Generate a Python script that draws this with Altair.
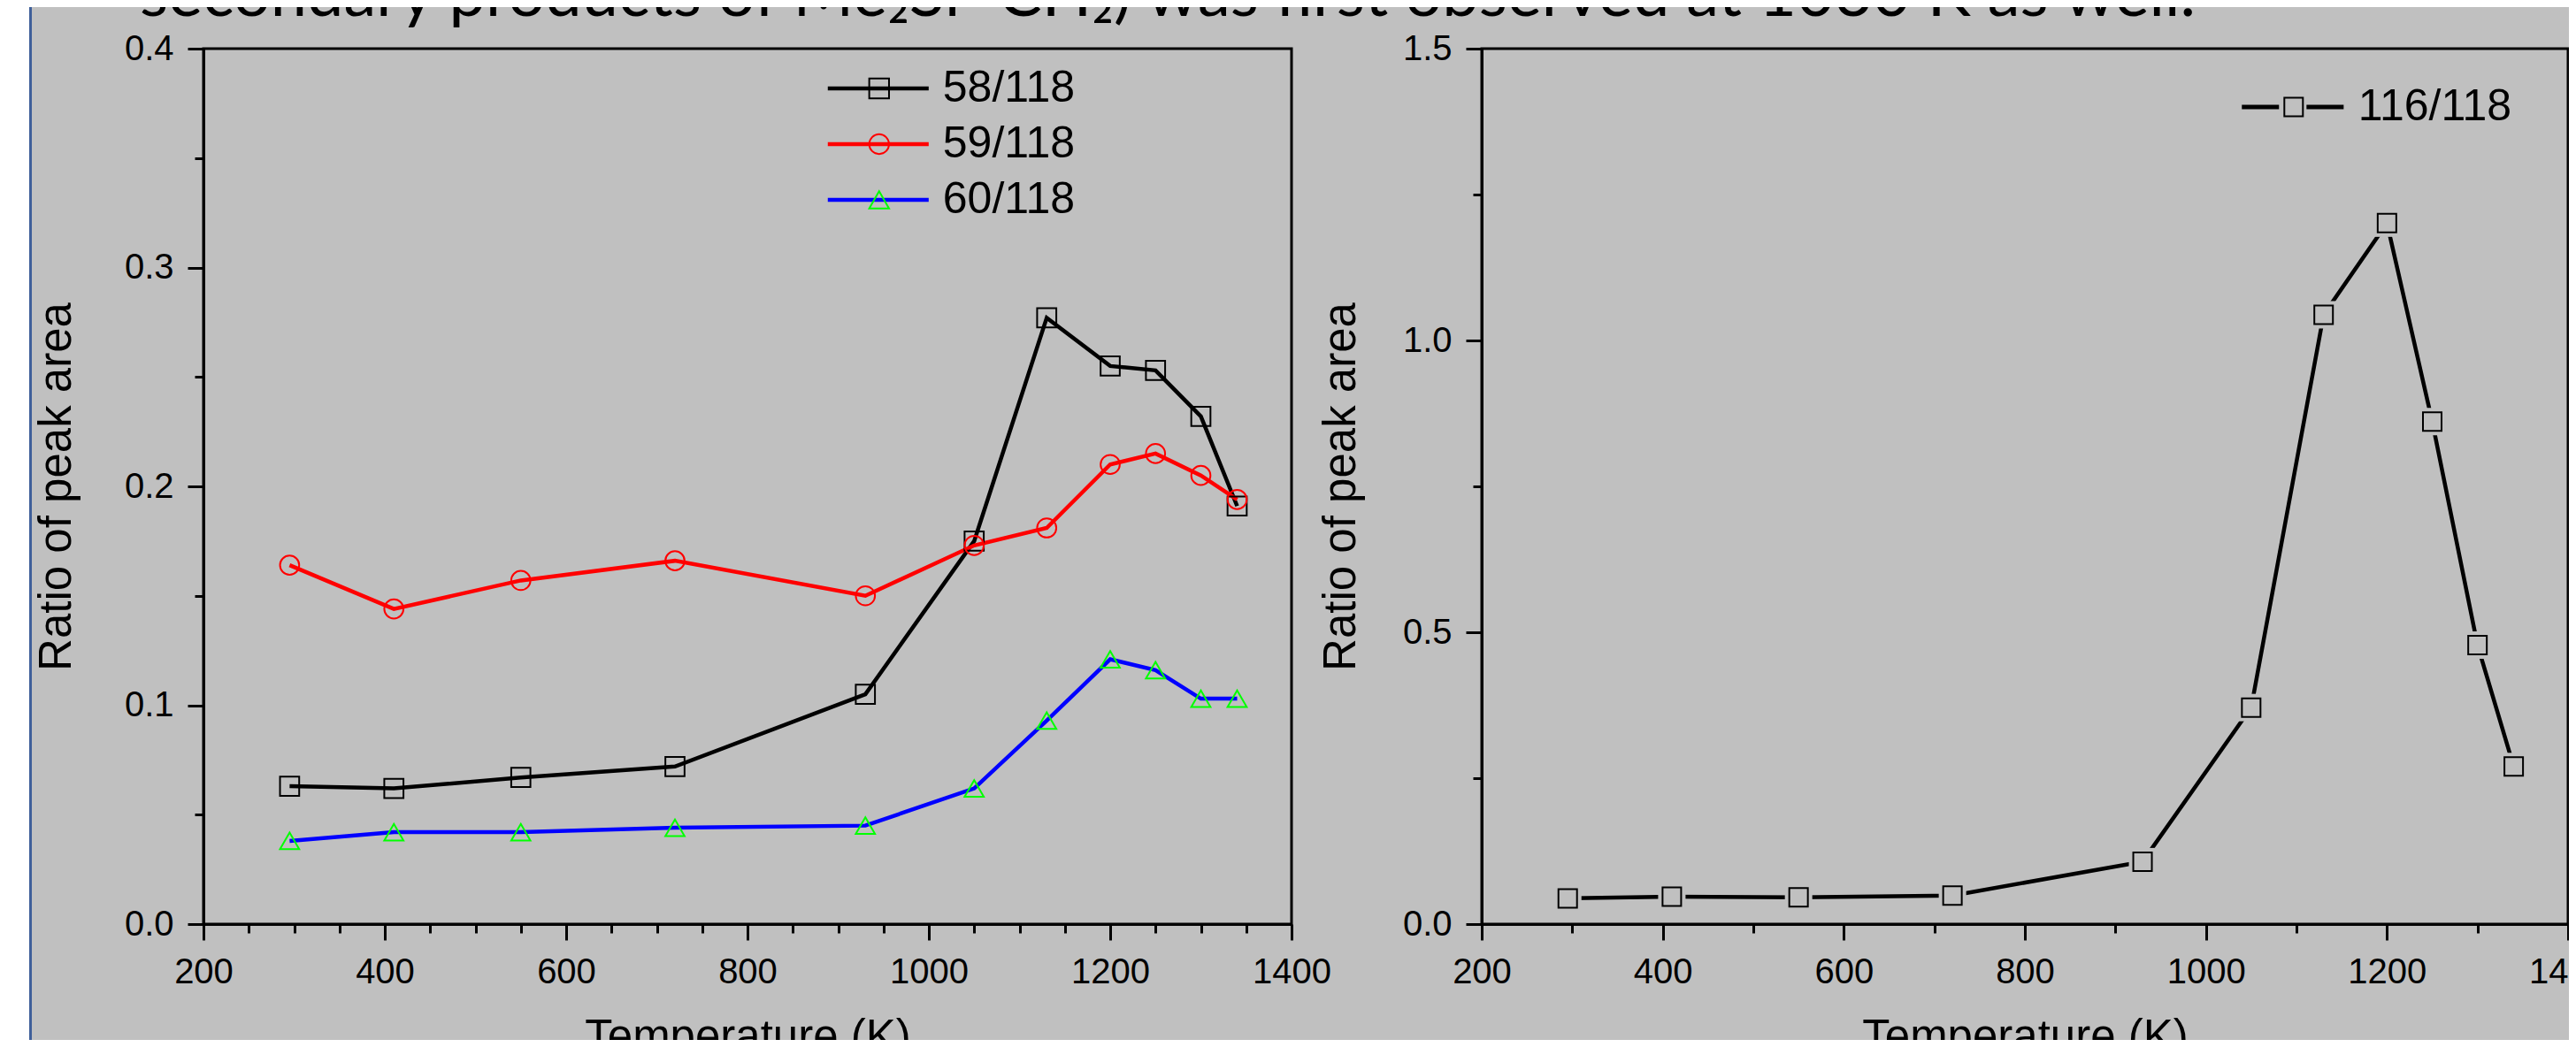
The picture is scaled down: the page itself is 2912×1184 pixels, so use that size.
import altair as alt
import pandas as pd

# ---------------- data ----------------
temps = [295, 410, 550, 720, 930, 1050, 1130, 1200, 1250, 1300, 1340]
ratio_58 = [0.063, 0.062, 0.067, 0.072, 0.105, 0.175, 0.277, 0.255, 0.253, 0.232, 0.191]
ratio_59 = [0.164, 0.144, 0.157, 0.166, 0.150, 0.173, 0.181, 0.210, 0.215, 0.205, 0.194]
ratio_60 = [0.038, 0.042, 0.042, 0.044, 0.045, 0.062, 0.093, 0.121, 0.116, 0.103, 0.103]
ratio_116 = [0.044, 0.047, 0.046, 0.049, 0.107, 0.371, 1.044, 1.201, 0.861, 0.478, 0.270]

left_series = ["58/118", "59/118", "60/118"]
right_series = ["116/118"]
left_line_colors = ["#000000", "#ff0000", "#0000ff"]
left_marker_colors = ["#000000", "#ff0000", "#00ff00"]
left_marker_shapes = ["square", "circle", "triangle-up"]

left_x_ticks = list(range(200, 1401, 50))
right_x_ticks = list(range(200, 1401, 100))
left_y_ticks = [round(i * 0.05, 2) for i in range(9)]
right_y_ticks = [round(i * 0.25, 2) for i in range(7)]

title_text = "secondary products of Me\u2082Si=CH\u2082) was first observed at 1030 K as well."
x_title = "Temperature (K)"
y_title = "Ratio of peak area"

# ---------------- tables ----------------
rows = []
for name, vals in zip(left_series, [ratio_58, ratio_59, ratio_60]):
    for t, v in zip(temps, vals):
        rows.append({"T": t, "v": v, "s": name, "m": name})
left_df = pd.DataFrame(rows)
right_df = pd.DataFrame({"T": temps, "v": ratio_116,
                         "s": right_series * len(temps), "m": right_series * len(temps)})
one = pd.DataFrame({"a": [0]})

FONT = "Liberation Sans"
GRAY = "#c0c0c0"

PLOT_W, PLOT_H = 2673, 990
L_RANGE = [0, 1230]
R_RANGE = [1445, 2673]
LINE_W = 4.5


def x_axis(ticks, major_test, title_x):
    return alt.Axis(
        orient="bottom", values=ticks, format="d",
        labelExpr=f"({major_test}) ? datum.label : ''",
        tickSize={"condition": {"test": major_test, "value": 18}, "value": 10},
        tickWidth=3, tickColor="black", domainWidth=3, domainColor="black",
        labelFont=FONT, labelFontSize=40, labelColor="black", labelPadding=16,
        labelOverlap=False, labelFlush=False, grid=False,
        title=x_title, titleFont=FONT, titleFontSize=51, titleFontWeight="normal",
        titleColor="black", titleX=title_x, titleY=103, titleBaseline="top",
    )


def y_axis(ticks, major_test, offset, title_x):
    return alt.Axis(
        orient="left", values=ticks, format=".1f", offset=offset,
        labelExpr=f"({major_test}) ? datum.label : ''",
        tickSize={"condition": {"test": major_test, "value": 18}, "value": 10},
        tickWidth=3, tickColor="black", domainWidth=3, domainColor="black",
        labelFont=FONT, labelFontSize=40, labelColor="black", labelPadding=16,
        labelOverlap=False, grid=False,
        title=y_title, titleFont=FONT, titleFontSize=51, titleFontWeight="normal",
        titleColor="black", titleX=title_x, titleY=PLOT_H / 2,
    )


# ---------------- left panel ----------------
lx_scale = alt.Scale(domain=[200, 1400], range=L_RANGE, nice=False, zero=False)
ly_scale = alt.Scale(domain=[0, 0.4], nice=False, zero=False)
lx = alt.X("T:Q", scale=lx_scale,
           axis=x_axis(left_x_ticks, "datum.value % 200 === 0", 615))
ly = alt.Y("v:Q", scale=ly_scale,
           axis=y_axis(left_y_ticks, "round(datum.value * 100) % 10 === 0", 0, -140))

legend_common = dict(title=None, orient="none", padding=0, rowPadding=13,
                     labelFont=FONT, labelFontSize=50, labelColor="black", labelLimit=0)

left_lines = alt.Chart(left_df).mark_line(strokeWidth=LINE_W).encode(
    x=lx, y=ly,
    color=alt.Color("s:N", scale=alt.Scale(range=left_line_colors),
                    legend=alt.Legend(legendX=737.8, legendY=20, symbolType="M-5.1,0H5.1",
                                      symbolSize=500, symbolStrokeWidth=4.5, labelOffset=48,
                                      **legend_common)),
)
marker_legend_left = alt.Legend(legendX=738.8, legendY=20, symbolSize=500, symbolStrokeWidth=2,
                                labelOffset=48, labelOpacity=0, symbolFillColor="transparent",
                                **legend_common)
left_points = alt.Chart(left_df).mark_point(filled=False, size=470, strokeWidth=2, opacity=1).encode(
    x=alt.X("T:Q", scale=lx_scale), y=alt.Y("v:Q", scale=ly_scale),
    stroke=alt.Stroke("m:N", scale=alt.Scale(range=left_marker_colors), legend=marker_legend_left),
    shape=alt.Shape("m:N", scale=alt.Scale(range=left_marker_shapes), legend=marker_legend_left),
)
left_frame = alt.Chart(one).mark_rect(filled=False, stroke="black", strokeWidth=3).encode(
    x=alt.datum(200, scale=lx_scale), x2=alt.datum(1400),
    y=alt.datum(0, scale=ly_scale), y2=alt.datum(0.4),
)
left_panel = alt.layer(left_lines, left_points, left_frame)

# ---------------- right panel ----------------
rx_scale = alt.Scale(domain=[200, 1400], range=R_RANGE, nice=False, zero=False)
ry_scale = alt.Scale(domain=[0, 1.5], nice=False, zero=False)
rx = alt.X("T:Q", scale=rx_scale,
           axis=x_axis(right_x_ticks, "datum.value % 200 === 0", (R_RANGE[0] + R_RANGE[1]) / 2))
ry = alt.Y("v:Q", scale=ry_scale,
           axis=y_axis(right_y_ticks, "round(datum.value * 100) % 50 === 0", -R_RANGE[0], -133))

right_line = alt.Chart(right_df).mark_line(strokeWidth=LINE_W).encode(
    x=rx, y=ry,
    color=alt.Color("s:N", scale=alt.Scale(range=["#000000"]),
                    legend=alt.Legend(legendX=2336.8, legendY=41,
                                      symbolType="M-5.48,0H-1.48M1.48,0H5.48",
                                      symbolSize=441, symbolStrokeWidth=5, labelOffset=49,
                                      **legend_common)),
)
right_halo = alt.Chart(right_df).mark_point(filled=True, shape="square", size=961,
                                            color=GRAY, opacity=1, strokeWidth=0).encode(
    x=alt.X("T:Q", scale=rx_scale), y=alt.Y("v:Q", scale=ry_scale),
)
marker_legend_right = alt.Legend(legendX=2337.8, legendY=41, symbolSize=441, symbolStrokeWidth=2,
                                 labelOffset=49, labelOpacity=0, symbolFillColor="transparent",
                                 **legend_common)
right_points = alt.Chart(right_df).mark_point(filled=False, size=441, strokeWidth=2, opacity=1).encode(
    x=alt.X("T:Q", scale=rx_scale), y=alt.Y("v:Q", scale=ry_scale),
    stroke=alt.Stroke("m:N", scale=alt.Scale(range=["#000000"]), legend=marker_legend_right),
    shape=alt.Shape("m:N", scale=alt.Scale(range=["square"]), legend=marker_legend_right),
)
right_frame = alt.Chart(one).mark_rect(filled=False, stroke="black", strokeWidth=3).encode(
    x=alt.datum(200, scale=rx_scale), x2=alt.datum(1400),
    y=alt.datum(0, scale=ry_scale), y2=alt.datum(1.5),
)
right_panel = alt.layer(right_line, right_halo, right_points, right_frame)

# ---------------- slide decoration (white margin, blue rule, cut-off slide sentence) ----------------
strip = alt.Chart(one).mark_rect(color="white").encode(
    x=alt.value(-222), x2=alt.value(-197), y=alt.value(-47), y2=alt.value(1121))
blue_rule = alt.Chart(one).mark_rule(color="#3f5f9a", strokeWidth=3).encode(
    x=alt.value(-195.5), y=alt.value(-47), y2=alt.value(1121))
slide_text = alt.Chart(one).mark_text(
    text=title_text, align="left", baseline="alphabetic",
    font="Lato", fontSize=74, color="black",
).encode(x=alt.value(-72), y=alt.value(-37))

chart = alt.layer(strip, blue_rule, slide_text, left_panel, right_panel).resolve_scale(
    x="independent", y="independent", color="independent",
    stroke="independent", shape="independent",
).resolve_legend(
    color="independent", stroke="independent", shape="independent",
).properties(
    width=PLOT_W, height=PLOT_H,
    autosize=alt.AutoSizeParams(type="none"),
    padding={"left": 222, "top": 47, "right": 1, "bottom": 131},
).configure(background=GRAY).configure_view(stroke=None)

chart.save("out.html", embed_options={"renderer": "svg", "actions": False})
